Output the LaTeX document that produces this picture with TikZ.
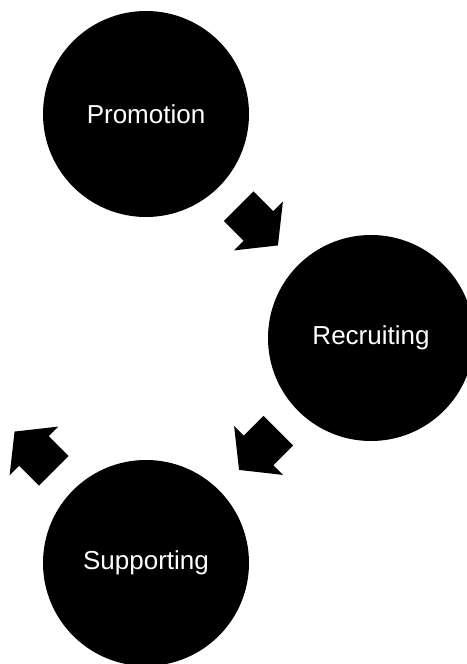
\documentclass[tikz,border=0pt]{standalone}
\usepackage{fontspec}
\setmainfont{Liberation Sans}
\usetikzlibrary{calc}
\begin{document}
\begin{tikzpicture}[
		x=1pt, y=1pt,
		stage/.style={circle,fill=black,text=white,inner sep=0pt,minimum size=206pt,font=\fontsize{26}{30}\selectfont},
		cyclearrow/.pic={\fill (-28,-21) -- (0,-21) -- (0,-34.5) -- (27.5,0) -- (0,34.5) -- (0,21) -- (-28,21) -- cycle;}
		]
		\useasboundingbox (0,0) rectangle (466,664);
		\node[stage] (prom) at (146,550) {Promotion};
		\node[stage] (recr) at (371,326) {Recruiting};
		\node[stage] (supp) at (146,101) {Supporting};
		\pic[rotate=-45] at ($(prom)!0.5!(recr)$) {cyclearrow};
		\pic[rotate=-135] at ($(recr)!0.5!(supp)$) {cyclearrow};
		\pic[rotate=135] at ($(supp)+(-112,112)$) {cyclearrow};
\end{tikzpicture}
\end{document}
